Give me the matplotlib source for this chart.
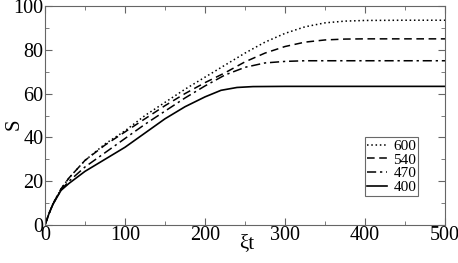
import numpy as np
import matplotlib
matplotlib.use("Agg")
import matplotlib.pyplot as plt
from matplotlib.ticker import MultipleLocator

plt.rcParams['font.family'] = ['Liberation Serif', 'DejaVu Serif']

# data
x_600 = [0, 5, 10, 20, 30, 50, 75, 100, 125, 150, 175, 200, 225, 250, 275, 300, 325, 350, 375, 400, 450, 500]
s_600 = [0, 5.2, 9.7, 16.5, 21.5, 29.5, 37, 43, 50, 56, 62, 67.5, 73, 78.5, 83.5, 87.5, 90.5, 92.3, 93.1, 93.4, 93.5, 93.5]

x_540 = [0, 5, 10, 20, 30, 50, 75, 100, 125, 150, 175, 200, 225, 250, 275, 300, 325, 350, 375, 400, 500]
s_540 = [0, 5.2, 9.7, 16.5, 21.5, 29.5, 36.5, 42.5, 48.5, 54.5, 60, 65, 69.5, 74.5, 78.5, 81.5, 83.5, 84.5, 84.9, 85, 85]

x_470 = [0, 5, 10, 20, 30, 50, 75, 100, 125, 150, 175, 200, 225, 250, 275, 300, 325, 350, 500]
s_470 = [0, 5.2, 9.6, 16, 20, 26.5, 33, 39.5, 46, 52, 58, 63.5, 68.5, 72, 74, 74.7, 75, 75, 75]

x_400 = [0, 5, 10, 20, 30, 50, 75, 100, 125, 150, 175, 200, 220, 240, 260, 300, 400, 500]
s_400 = [0, 5.2, 9.5, 15.8, 19, 24.5, 30, 35.5, 42, 48.5, 54, 58.5, 61.5, 62.8, 63.2, 63.3, 63.3, 63.3]

labels = ['600', '540', '470', '400']

fig = plt.figure(figsize=(4.58, 2.63), dpi=100)
ax = fig.add_axes([45/458, 38/263, 400/458, 219/263])

ax.plot(x_600, s_600, color='black', lw=1.1, linestyle=(0, (1, 1.8)), label=labels[0])
ax.plot(x_540, s_540, color='black', lw=1.1, linestyle=(0, (5, 3)), label=labels[1])
ax.plot(x_470, s_470, color='black', lw=1.1, linestyle=(0, (6, 2.5, 1.5, 2.5)), label=labels[2])
ax.plot(x_400, s_400, color='black', lw=1.2, linestyle='-', label=labels[3])

ax.set_xlim(0, 500)
ax.set_ylim(0, 100)
ax.xaxis.set_major_locator(MultipleLocator(100))
ax.xaxis.set_minor_locator(MultipleLocator(50))
ax.yaxis.set_major_locator(MultipleLocator(20))
ax.yaxis.set_minor_locator(MultipleLocator(10))
ax.tick_params(which='both', direction='in', top=True, right=True, color='#666666', labelsize=14.5, pad=1)
ax.tick_params(which='major', length=5)
ax.tick_params(which='minor', length=3)
for sp in ax.spines.values():
    sp.set_color('#666666')

ax.set_xlabel('ξt', fontsize=15)
ax.set_ylabel('S', fontsize=15)
ax.xaxis.set_label_coords(0.505, -0.04, transform=ax.transAxes)
ax.xaxis.label.set_va('top')
ax.yaxis.set_label_coords(-0.076, 0.46, transform=ax.transAxes)
ax.yaxis.label.set_va('center')

leg = ax.legend(loc='upper left', bbox_to_anchor=(0.8, 0.402), fontsize=11, frameon=True,
                fancybox=False, handlelength=1.3, handletextpad=0.4, borderpad=0.15,
                labelspacing=0.0, borderaxespad=0)
leg.get_frame().set_edgecolor('#444444')
leg.get_frame().set_linewidth(0.8)

fig.savefig('out.png', dpi=100)
